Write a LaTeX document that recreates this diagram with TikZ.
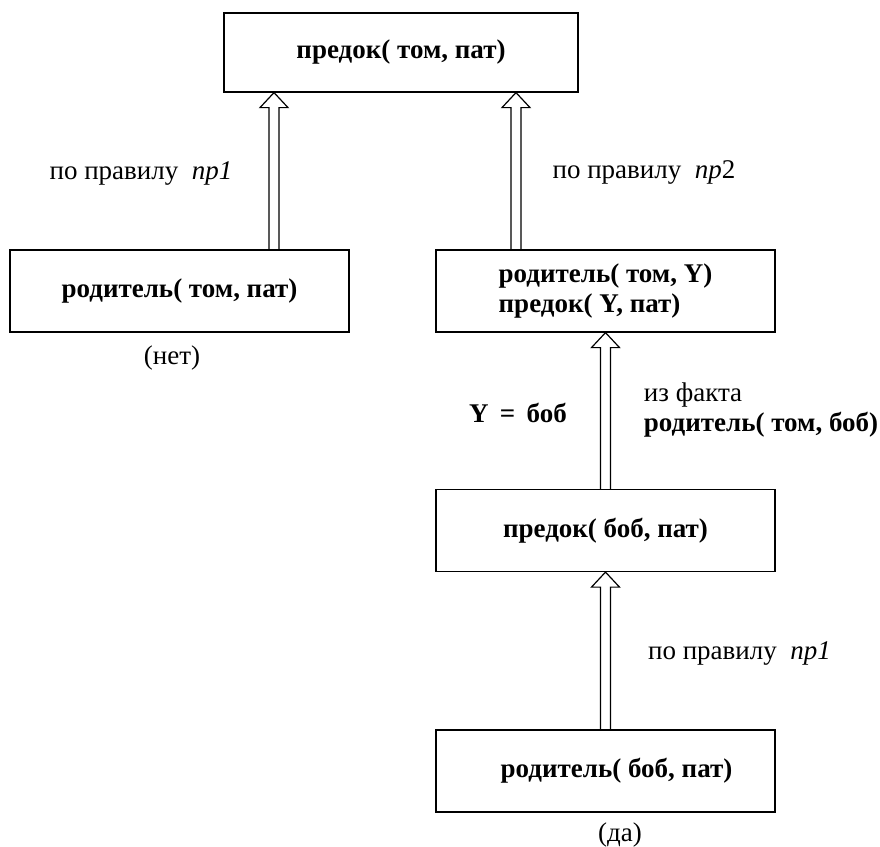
\documentclass[tikz,border=0pt]{standalone}
\usepackage{fontspec}
\setmainfont{Liberation Serif}
\usetikzlibrary{calc,positioning}
\tikzset{every picture/.style={line width=1.2pt}}
\tikzset{font=\fontsize{27}{29.5}\selectfont}
\tikzstyle{box}=[draw,minimum width=339pt,minimum height=82pt,inner sep=0pt,font=\fontsize{27}{29.5}\selectfont\bfseries]
\tikzstyle{hollow}=[to path={let \p1=(\tikztostart), \p2=(\tikztotarget) in
  (\x1-5pt,\y1) -- (\x1-5pt,\y2-15pt) -- (\x1-14pt,\y2-15pt) -- (\x1,\y2)
  -- (\x1+14pt,\y2-15pt) -- (\x1+5pt,\y2-15pt) -- (\x1+5pt,\y1)}]

\begin{document}
\begin{tikzpicture}[x=1pt,y=-1pt]
\useasboundingbox (0,0) rectangle (880,846);
\node[box,minimum width=354pt,minimum height=79pt] (goal) at (401,52.5) {предок( том, пат)};
\node[box] (par1) at (179.5,291) {родитель( том, пат)};
\node[box,align=left] (conj) at (605.5,291) {родитель( том, Y)\\предок( Y, пат)};
\node[box] (anc) at (605.5,530.5) {предок( боб, пат)};
\node[box] (par2) at (605.5,771) {\hspace*{22pt}родитель( боб, пат)};
\node (r1) at (141,173) {по правилу \ \textit{пр1}};
\node (r2) at (644,172) {по правилу \ \textit{пр}2};
\node[font=\fontsize{27}{29.5}\selectfont\bfseries] (sub) at (518,413) {Y \,=\, боб};
\node[align=left,anchor=west] (fact) at (640,410) {из факта\\\textbf{родитель( том, боб)}};
\node (r3) at (739.5,653) {по правилу \ \textit{пр1}};
\node (no) at (172,358) {(нет)};
\node (yes) at (620,835) {(да)};
\path
([xshift=94.5pt]par1.north) edge[hollow] (goal.south)
([xshift=-89.5pt]conj.north) edge[hollow] (goal.south)
(anc.north) edge[hollow] (conj.south)
(par2.north) edge[hollow] (anc.south);
\end{tikzpicture}
\end{document}
